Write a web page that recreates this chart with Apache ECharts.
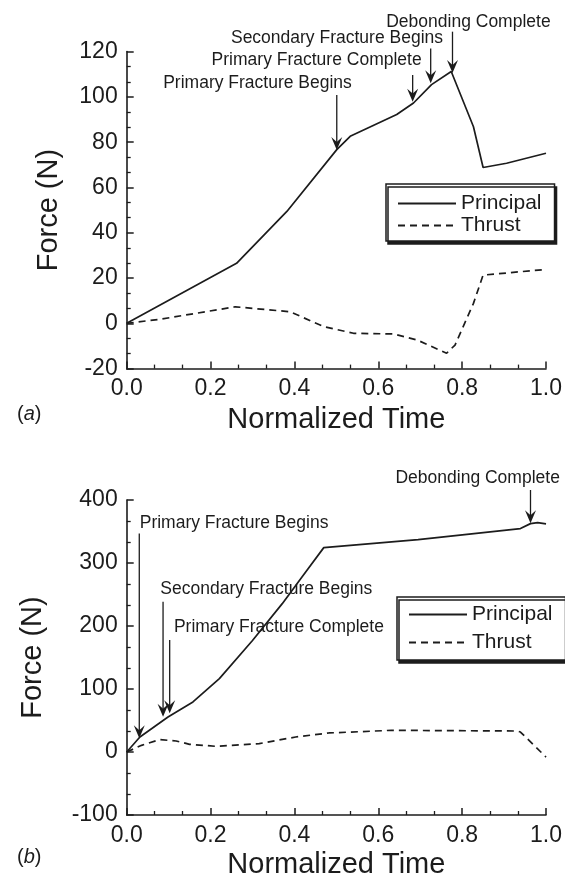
<!DOCTYPE html>
<html><head><meta charset="utf-8">
<script src="https://cdn.jsdelivr.net/npm/echarts@6/dist/echarts.min.js"></script>
<style>html,body{margin:0;padding:0;background:#fff}#c{width:565px;height:884px}</style>
</head><body><div id="c"></div>
<script>
// ---------- data ----------
const xTicks = [0, 0.2, 0.4, 0.6, 0.8, 1.0];
const topYTicks = [-20, 0, 20, 40, 60, 80, 100, 120];
const botYTicks = [-100, 0, 100, 200, 300, 400];
const seriesNames = ['Principal', 'Thrust'];

// (a)
const topPrincipalX = [0, 0.262, 0.382, 0.501, 0.533, 0.644, 0.684, 0.727, 0.774, 0.827, 0.850, 0.906, 1.0];
const topPrincipalY = [0, 26.5, 49.4, 76.7, 82.6, 92.2, 97.3, 105.4, 111.2, 86.8, 68.8, 70.7, 75.1];
const topThrustX = [0, 0.08, 0.259, 0.39, 0.47, 0.541, 0.637, 0.693, 0.763, 0.783, 0.827, 0.850, 1.0];
const topThrustY = [0, 1.8, 7.3, 5.1, -1.5, -4.4, -4.7, -7.4, -13.2, -9.6, 8.8, 21.3, 23.8];

// (b)
const botPrincipalX = [0, 0.0315, 0.0985, 0.158, 0.221, 0.300, 0.371, 0.418, 0.470, 0.695, 0.939, 0.963, 0.98, 1.0];
const botPrincipalY = [0, 23.8, 55.6, 79.4, 116.5, 177, 235.5, 277.8, 324.4, 337, 354.6, 362.5, 364, 362];
const botThrustX = [0, 0.0355, 0.079, 0.118, 0.150, 0.213, 0.316, 0.403, 0.482, 0.631, 0.931, 0.939, 1.0];
const botThrustY = [0, 10.6, 19.7, 17.5, 12.2, 9, 13.3, 23.8, 30.2, 34.4, 33.3, 31.7, -8];

// annotations (data coordinates): arrow x, arrow start y, arrow tip y, text x, text y
const topNotes = ['Primary Fracture Begins', 'Primary Fracture Complete', 'Secondary Fracture Begins', 'Debonding Complete'];
const topNoteArrowX = [0.501, 0.682, 0.725, 0.777];
const topNoteFromY = [100.8, 109.7, 121.4, 128.8];
const topNoteTipY = [76.5, 97.9, 106.0, 110.5];
const topNoteTextX = [0.312, 0.453, 0.5015, 0.815];
const topNoteTextY = [106, 116.3, 125.9, 133.2];

const botNotes = ['Primary Fracture Begins', 'Secondary Fracture Begins', 'Primary Fracture Complete', 'Debonding Complete'];
const botNoteArrowX = [0.030, 0.0867, 0.1025, 0.963];
const botNoteFromY = [347, 238.6, 177.8, 415.9];
const botNoteTipY = [21.7, 56, 61.4, 363];
const botNoteTextX = [0.256, 0.333, 0.363, 0.837];
const botNoteTextY = [363, 258.3, 198.9, 434.4];

// ---------- styling ----------
const INK = '#1c1c1c';
const FONT = '"Liberation Sans", Arial, Helvetica, sans-serif';

const zip = (xs, ys) => xs.map((x, i) => [x, ys[i]]);
const notesData = (ax, fy, ty, tx, tyy) => ax.map((x, i) => [x, fy[i], ty[i], tx[i], tyy[i]]);

function xAxisCfg(gridIndex, nameGap) {
  return {
    type: 'value', gridIndex,
    min: xTicks[0], max: xTicks[xTicks.length - 1], interval: xTicks[1] - xTicks[0],
    axisLine: { onZero: false, lineStyle: { color: INK, width: 1.6 } },
    axisTick: { inside: true, length: 7, lineStyle: { color: INK, width: 1.5 } },
    minorTick: { show: true, splitNumber: 3, length: 4, lineStyle: { color: INK, width: 1.3 } },
    splitLine: { show: false },
    axisLabel: { color: INK, fontSize: 23, fontFamily: FONT, margin: 9, formatter: v => v.toFixed(1) },
    name: 'Normalized Time', nameLocation: 'middle', nameGap,
    nameTextStyle: { color: INK, fontSize: 29, fontFamily: FONT }
  };
}
function yAxisCfg(gridIndex, ticks, nameGap) {
  return {
    type: 'value', gridIndex,
    min: ticks[0], max: ticks[ticks.length - 1], interval: ticks[1] - ticks[0],
    axisLine: { show: true, onZero: false, lineStyle: { color: INK, width: 1.6 } },
    axisTick: { show: true, inside: true, length: 7, lineStyle: { color: INK, width: 1.5 } },
    minorTick: { show: true, splitNumber: 3, length: 4, lineStyle: { color: INK, width: 1.3 } },
    splitLine: { show: false },
    axisLabel: { color: INK, fontSize: 23, fontFamily: FONT, margin: 9 },
    name: 'Force (N)', nameLocation: 'middle', nameGap,
    nameTextStyle: { color: INK, fontSize: 29, fontFamily: FONT }
  };
}
function lineSeries(name, idx, data, dashed) {
  return {
    name, type: 'line', xAxisIndex: idx, yAxisIndex: idx, data,
    showSymbol: false, symbol: 'none', clip: false, animation: false,
    lineStyle: { color: INK, width: 1.7, type: dashed ? [7, 5] : 'solid' },
    itemStyle: { color: INK }
  };
}
function notesSeries(idx, labels, data) {
  return {
    type: 'custom', xAxisIndex: idx, yAxisIndex: idx, data, silent: true, animation: false, z: 5,
    renderItem: function (params, api) {
      const p1 = api.coord([api.value(0), api.value(1)]);
      const p2 = api.coord([api.value(0), api.value(2)]);
      const t = api.coord([api.value(3), api.value(4)]);
      const hl = 13, hw = 5.5;
      return {
        type: 'group',
        children: [
          { type: 'line', shape: { x1: p1[0], y1: p1[1], x2: p2[0], y2: p2[1] - 7 },
            style: { stroke: INK, lineWidth: 1.3 } },
          { type: 'polygon', shape: { points: [[p2[0], p2[1]], [p2[0] - hw, p2[1] - hl], [p2[0], p2[1] - hl * 0.62], [p2[0] + hw, p2[1] - hl]] },
            style: { fill: INK } },
          { type: 'text', x: t[0], y: t[1],
            style: { text: labels[params.dataIndex], align: 'center', verticalAlign: 'middle',
                     fontSize: 17.5, fontFamily: FONT, fill: INK } }
        ]
      };
    }
  };
}
function legendCfg(left, top, gap, pad) {
  return {
    data: seriesNames, orient: 'vertical', left, top,
    itemWidth: 58, itemHeight: 14, itemGap: gap, padding: pad,
    itemStyle: { opacity: 0 },
    textStyle: { color: INK, fontSize: 21, fontFamily: FONT, lineHeight: 21 },
    borderColor: INK, borderWidth: 1.5, backgroundColor: '#fff',
    shadowColor: INK, shadowBlur: 0, shadowOffsetX: 2, shadowOffsetY: 3,
    selectedMode: false, inactiveColor: INK
  };
}
const tagStyle = {
  rich: {
    p: { fontSize: 20, fontFamily: FONT, fontWeight: 'normal', color: INK },
    i: { fontSize: 20, fontFamily: FONT, fontWeight: 'normal', fontStyle: 'italic', color: INK }
  }
};

const chart = echarts.init(document.getElementById('c'), null, { renderer: 'canvas' });
chart.setOption({
  animation: false,
  backgroundColor: '#fff',
  title: [
    { text: '{p|(}{i|a}{p|)}', left: 17, top: 404, padding: 0, textStyle: tagStyle },
    { text: '{p|(}{i|b}{p|)}', left: 17, top: 847, padding: 0, textStyle: tagStyle }
  ],
  grid: [
    { left: 126.7, right: 19, top: 51.6, height: 317 },
    { left: 126.7, right: 16, top: 500, height: 315 }
  ],
  xAxis: [xAxisCfg(0, 37), xAxisCfg(1, 35)],
  yAxis: [yAxisCfg(0, topYTicks, 63), yAxisCfg(1, botYTicks, 79)],
  legend: [
    legendCfg(386, 184, 1, [9, 13, 5, 11]),
    legendCfg(397, 597, 7, [7, 13, 7, 11])
  ],
  series: [
    lineSeries('Principal', 0, zip(topPrincipalX, topPrincipalY), false),
    lineSeries('Thrust', 0, zip(topThrustX, topThrustY), true),
    lineSeries('Principal', 1, zip(botPrincipalX, botPrincipalY), false),
    lineSeries('Thrust', 1, zip(botThrustX, botThrustY), true),
    notesSeries(0, topNotes, notesData(topNoteArrowX, topNoteFromY, topNoteTipY, topNoteTextX, topNoteTextY)),
    notesSeries(1, botNotes, notesData(botNoteArrowX, botNoteFromY, botNoteTipY, botNoteTextX, botNoteTextY))
  ]
});
</script></body></html>
